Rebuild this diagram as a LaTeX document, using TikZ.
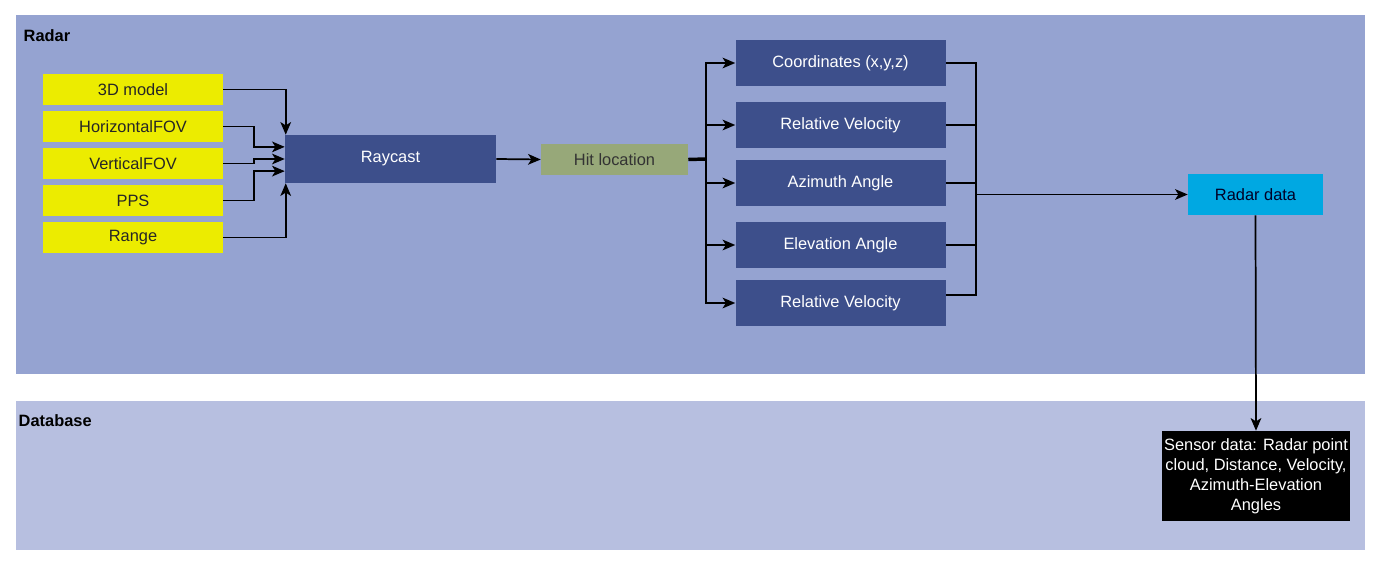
\documentclass[tikz,border=0pt]{standalone}
\usepackage{fontspec}
\setmainfont{Liberation Sans}
\usepackage{xcolor}
\usepackage{tikz}
\usetikzlibrary{
    arrows.meta,
    positioning,
    calc
}
\definecolor{radarbg}{RGB}{149,163,209}
\definecolor{databg}{RGB}{183,191,224}
\definecolor{darkbox}{RGB}{61,79,139}
\definecolor{inyellow}{RGB}{236,236,0}
\definecolor{hitgreen}{RGB}{151,168,121}
\definecolor{radarblue}{RGB}{0,168,226}
\newcommand{\boxfont}{\fontsize{12.3}{15}\selectfont}
\def\px{0.75pt}
\tikzstyle{arrow} = [
    line width=1.3pt,
    -{Stealth[length=9.5pt,width=8pt,inset=2.5pt]}
]
\tikzstyle{wire} = [
    line width=1.3pt
]
\tikzstyle{inbox} = [
    fill=inyellow, text=black!85, font=\boxfont,
    minimum width=180*\px, minimum height=31*\px, inner sep=0pt
]
\tikzstyle{outbox} = [
    fill=darkbox, text=white, font=\boxfont,
    minimum width=210*\px, minimum height=46*\px, inner sep=0pt
]

\begin{document}
\begin{tikzpicture}[x=0.75pt, y=-0.75pt]
\useasboundingbox (0,0) rectangle (1382,567);

% Hintergrundflaechen
\fill[radarbg] (16,15) rectangle (1365,374);
\fill[databg] (16,401) rectangle (1365,550);
\node[anchor=west, font=\boxfont\bfseries] (radarlbl) at (19,36) {Radar};
\node[anchor=west, font=\boxfont\bfseries] (datalbl) at (14,421) {Database};

% Eingaben
\foreach \name/\txt [count=\i from 0] in {in1/3D model, in2/HorizontalFOV,
    in3/VerticalFOV, in4/PPS, in5/Range} {
    \node[inbox] (\name) at (133, 89.5+37*\i) {\txt};
}

% Raycast und Trefferpunkt
\node[fill=darkbox, text=white, font=\boxfont, minimum width=211*\px,
    minimum height=48*\px] (raycast) at (390.5,159) {Raycast};
\node[fill=hitgreen, text=black!80, font=\boxfont, minimum width=147*\px,
    minimum height=31*\px] (hit) at (614.5,159.5) {Hit location};

% Ausgaben
\node[outbox] (coord) at (840.5,63) {Coordinates (x,y,z)};
\node[outbox] (relvel) at (840.5,125) {Relative Velocity};
\node[outbox] (azim) at (840.5,183) {Azimuth Angle};
\node[outbox] (elev) at (840.5,245) {Elevation Angle};
\node[outbox] (relvelb) at (840.5,303) {Relative Velocity};

% Radardaten und Datenbank
\node[fill=radarblue, text=black!85!blue, font=\boxfont, minimum width=135*\px,
    minimum height=41*\px] (radardata) at (1255.5,194.5) {Radar data};
\node[fill=black, text=white, font=\boxfont, align=center, inner xsep=1pt,
    minimum width=188*\px, minimum height=90*\px] (sensor) at (1256,476)
    {Sensor data: Radar point\\cloud, Distance, Velocity,\\Azimuth-Elevation\\Angles};

% Pfeile in den Raycast
\coordinate (rc1) at ($(raycast.north west)!0.25!(raycast.south west)$);
\coordinate (rc3) at ($(raycast.north west)!0.75!(raycast.south west)$);
\draw[arrow] (in1.east) -| ([xshift=1*\px]raycast.north west);
\draw[arrow] (in2.east) -- ++(31,0) |- (rc1);
\draw[arrow] (in3.east) -- ++(31,0) |- (raycast.west);
\draw[arrow] (in4.east) -- ++(31,0) |- (rc3);
\draw[arrow] (in5.east) -| ([xshift=1*\px]raycast.south west);
\draw[arrow] (raycast.east) -- (hit.west);

% Verteilung
\coordinate (split) at (706,159);
\draw[line width=2.6pt] (hit.east) -- (split);
\foreach \n in {coord,relvel,azim,elev,relvelb} {
    \draw[arrow] (split) |- (\n.west);
}

% Zusammenfuehrung
\coordinate (mergex) at (976,0);
\coordinate (merge) at (mergex |- radardata.west);
\foreach \n in {coord,relvel,azim,elev} {
    \draw[wire] (\n.east) -| (merge);
}
\draw[wire] ([yshift=6pt]relvelb.east) -| (merge);
\draw[arrow] (merge) -- (radardata.west);
\draw[arrow] (radardata.south) -- (sensor.north);
\end{tikzpicture}
\end{document}
